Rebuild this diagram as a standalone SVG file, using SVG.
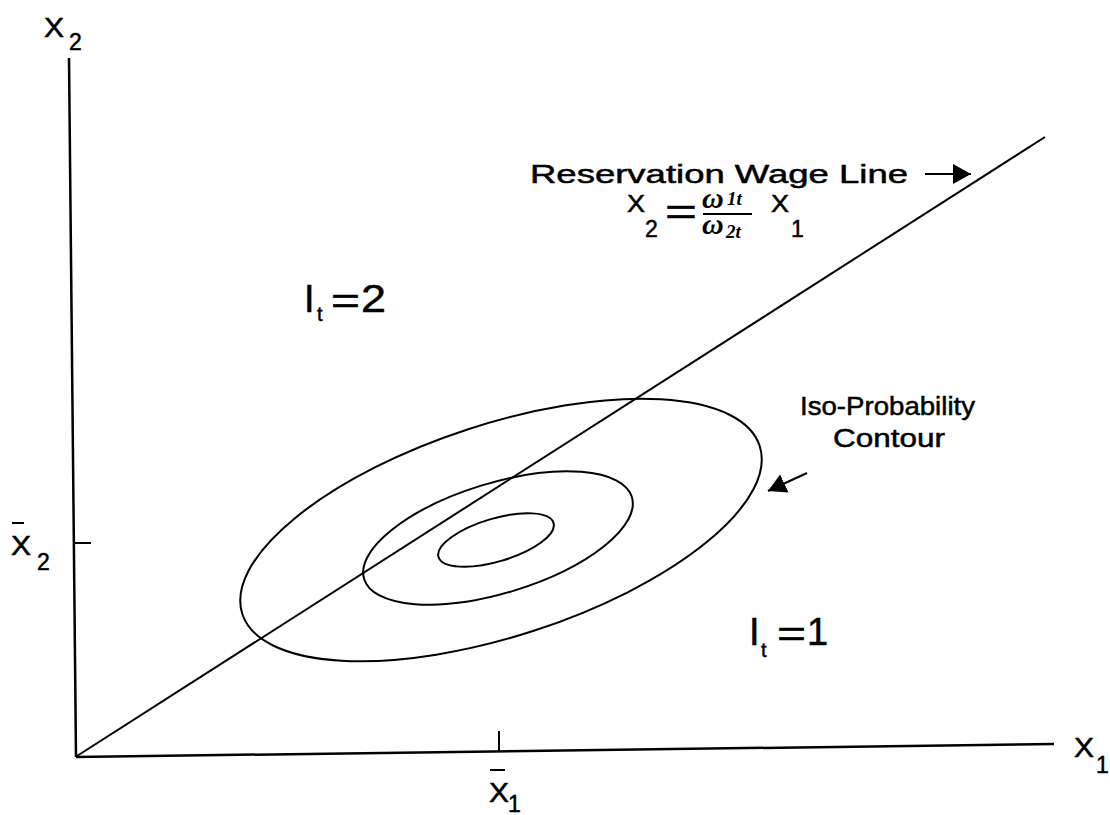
<svg xmlns="http://www.w3.org/2000/svg" width="1110" height="815" viewBox="0 0 1110 815">
<defs>
<style>
.ln{stroke:#000;stroke-width:2;fill:none}
.ax{stroke:#000;stroke-width:2.5;fill:none}
.t{font-family:"Liberation Sans",Arial,Helvetica,sans-serif;fill:#000;stroke:#000;stroke-width:0.5}
.w{font-family:"Liberation Serif","Times New Roman",serif;font-style:italic;font-weight:bold;fill:#000}
</style>
<marker id="ah" viewBox="0 0 18 20" refX="18" refY="10" markerWidth="18" markerHeight="20" markerUnits="userSpaceOnUse" orient="auto">
<path d="M0,0 L18,10 L0,20 z" fill="#000"/>
</marker>
</defs>
<rect width="1110" height="815" fill="#fff"/>
<g id="axes">
<line class="ax" x1="69" y1="58" x2="76" y2="757"/>
<line class="ax" x1="76" y1="757" x2="1054" y2="744"/>
<line class="ln" x1="499" y1="731" x2="499" y2="751"/>
<line class="ln" x1="74" y1="543" x2="91" y2="543"/>
<text class="t" x="44" y="37" font-size="27" textLength="20" lengthAdjust="spacingAndGlyphs">X</text>
<text class="t" x="69" y="50" font-size="23">2</text>
<line class="ln" x1="12" y1="523" x2="24" y2="523"/>
<text class="t" x="11" y="555" font-size="27" textLength="20" lengthAdjust="spacingAndGlyphs">X</text>
<text class="t" x="37" y="570" font-size="23">2</text>
<line class="ln" x1="490" y1="770" x2="505" y2="770"/>
<text class="t" x="489" y="802" font-size="27" textLength="20" lengthAdjust="spacingAndGlyphs">X</text>
<text class="t" x="508" y="812" font-size="23">1</text>
<text class="t" x="1074" y="757" font-size="27" textLength="20" lengthAdjust="spacingAndGlyphs">X</text>
<text class="t" x="1096" y="773" font-size="23">1</text>
</g>
<g id="reservation-line">
<line class="ln" x1="77" y1="756" x2="1045" y2="137"/>
<text class="t" x="530" y="183" font-size="26" textLength="378" lengthAdjust="spacingAndGlyphs">Reservation Wage Line</text>
</g>
<g id="equation">
<text class="t" x="627" y="212" font-size="24" textLength="18" lengthAdjust="spacingAndGlyphs">X</text>
<text class="t" x="645" y="237" font-size="23">2</text>
<text class="t" x="665" y="224" font-size="36" textLength="32" lengthAdjust="spacingAndGlyphs">=</text>
<text class="w" x="702" y="208" font-size="30">ω</text>
<text class="w" x="727" y="205" font-size="19">1t</text>
<line class="ln" x1="703" y1="214" x2="752" y2="214"/>
<text class="w" x="702" y="234" font-size="30">ω</text>
<text class="w" x="726" y="238" font-size="19">2t</text>
<text class="t" x="771" y="212" font-size="24" textLength="18" lengthAdjust="spacingAndGlyphs">X</text>
<text class="t" x="791" y="237" font-size="23">1</text>
</g>
<g id="contours">
<ellipse class="ln" cx="501" cy="530" rx="272" ry="106" transform="rotate(-18 501 530)"/>
<ellipse class="ln" cx="498" cy="538" rx="140" ry="55" transform="rotate(-17 498 538)"/>
<ellipse class="ln" cx="496" cy="540" rx="60" ry="21.5" transform="rotate(-16.5 496 540)"/>
</g>
<g id="region-labels">
<text class="t" x="304" y="312" font-size="38">I</text>
<text class="t" x="317" y="321" font-size="20">t</text>
<text class="t" x="331" y="313" font-size="36" textLength="29" lengthAdjust="spacingAndGlyphs">=</text>
<text class="t" x="361" y="312" font-size="38" textLength="25" lengthAdjust="spacingAndGlyphs">2</text>
<text class="t" x="749" y="645" font-size="38">I</text>
<text class="t" x="761" y="657" font-size="20">t</text>
<text class="t" x="777" y="646" font-size="36" textLength="29" lengthAdjust="spacingAndGlyphs">=</text>
<text class="t" x="807" y="645" font-size="38">1</text>
</g>
<g id="contour-label">
<text class="t" x="800" y="415" font-size="26" textLength="175" lengthAdjust="spacingAndGlyphs">Iso-Probability</text>
<text class="t" x="833" y="447" font-size="26" textLength="112" lengthAdjust="spacingAndGlyphs">Contour</text>
</g>
<g id="connectors">
<line class="ln" x1="925" y1="174" x2="971" y2="174" marker-end="url(#ah)"/>
<line class="ln" x1="807" y1="473" x2="768" y2="491" marker-end="url(#ah)"/>
</g>
</svg>
